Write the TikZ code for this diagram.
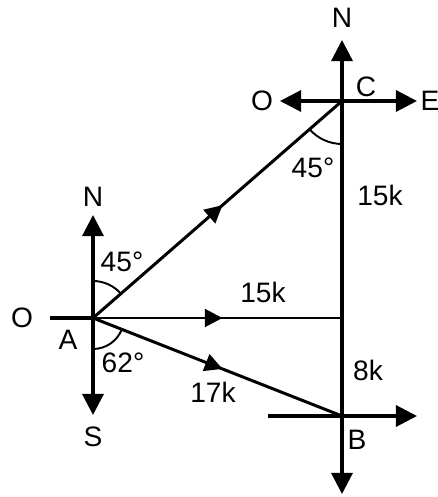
\documentclass[tikz,border=0pt]{standalone}
\usepackage{fontspec}
\setmainfont{Liberation Sans}
\usetikzlibrary{arrows.meta,decorations.markings}

\begin{document}
\begin{tikzpicture}[x=0.02cm, y=0.02cm,
    compass/.style={line width=1.8pt, -{Triangle[length=12pt, width=12pt]}},
    leg/.style={line width=1.7pt, postaction={decorate},
        decoration={markings, mark=at position 0.52 with {\arrow{Triangle[length=10pt, width=10pt]}}}},
    angarc/.style={line width=1.1pt},
    lbl/.style={font=\fontsize{16}{19}\selectfont, inner sep=0pt}
]
    \useasboundingbox (0,0) rectangle (438,497);

    % Points
    \coordinate (A) at (93,179);
    \coordinate (C) at (342,396);
    \coordinate (B) at (342,81);
    \coordinate (D) at (342,179);

    % Compass at A
    \coordinate (AN) at (93,282);
    \coordinate (AS) at (93,82);
    \coordinate (AW) at (50,179);
    \draw[compass] (A) -- (AN);
    \draw[compass] (A) -- (AS);
    \draw[line width=1.8pt] (AW) -- (A);

    % Compass at C
    \coordinate (CN) at (342,457);
    \coordinate (CW) at (280,396);
    \coordinate (CE) at (417,396);
    \draw[compass] (C) -- (CN);
    \draw[compass] (C) -- (CW);
    \draw[compass] (C) -- (CE);

    % Compass at B
    \coordinate (BS) at (342,3);
    \coordinate (BW) at (268,81);
    \coordinate (BE) at (417,81);
    \draw[line width=1.8pt] (C) -- (B);
    \draw[compass] (B) -- (BS);
    \draw[compass] (BW) -- (BE);

    % Legs
    \draw[leg] (A) -- (C);
    \draw[leg] (A) -- (D);
    \draw[leg] (A) -- (B);

    % Angles
    \draw[angarc] (A) ++(90:0.74cm) arc[start angle=90, end angle=41.1, radius=0.74cm];
    \draw[angarc] (A) ++(270:0.62cm) arc[start angle=270, end angle=338.7, radius=0.62cm];
    \draw[angarc] (C) ++(221.1:0.86cm) arc[start angle=221.1, end angle=270, radius=0.86cm];

    % Labels
    \node[lbl] (nC) at (342,479) {N};
    \node[lbl] (lC) at (366,410) {C};
    \node[lbl] (oC) at (262,396) {O};
    \node[lbl] (eC) at (430,396) {E};
    \node[lbl] (aC) at (313,329) {45°};
    \node[lbl] (dCD) at (380,302) {15k};
    \node[lbl] (nA) at (93,300) {N};
    \node[lbl] (aN) at (122,235) {45°};
    \node[lbl] (oA) at (22,179) {O};
    \node[lbl] (lA) at (68,157) {A};
    \node[lbl] (aS) at (123,134) {62°};
    \node[lbl] (sA) at (93,60) {S};
    \node[lbl] (dAD) at (263,205) {15k};
    \node[lbl] (dAB) at (213,105) {17k};
    \node[lbl] (dDB) at (368,127) {8k};
    \node[lbl] (lB) at (357,57) {B};
\end{tikzpicture}
\end{document}
